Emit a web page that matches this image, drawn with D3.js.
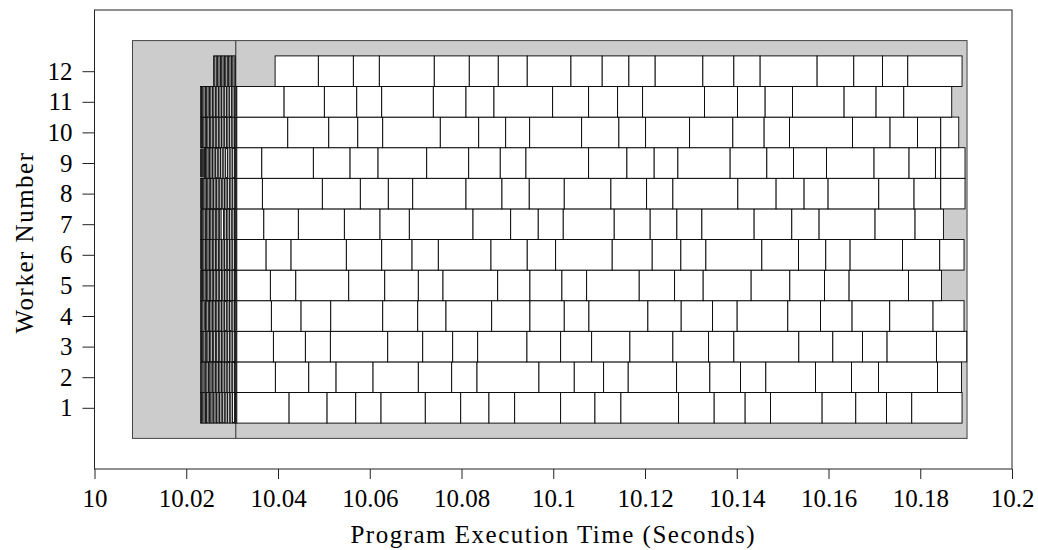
<!DOCTYPE html>
<html lang="en">
<head>
    <meta charset="UTF-8">
    <title>Worker timeline</title>
    <style>
        html,
        body {
            margin: 0;
            height: 100%;
            overflow: hidden;
            background: #fff;
        }
        text { font-family: "Liberation Serif", serif; fill: #000; }
    </style>
    <script src="https://d3js.org/d3.v7.min.js"></script>
</head>
<body>
    <svg id="svg"></svg>
    <script>
        // all task times are ms after t = 10 s
        const workers = [1, 2, 3, 4, 5, 6, 7, 8, 9, 10, 11, 12];
        const xTicks = [10, 10.02, 10.04, 10.06, 10.08, 10.1, 10.12, 10.14, 10.16, 10.18, 10.2];
        const xTickLabels = ['10', '10.02', '10.04', '10.06', '10.08', '10.1', '10.12', '10.14', '10.16', '10.18', '10.2'];
        const phases = [8.28, 30.81, 190.20]; // grey background: setup phase, run phase

        // tiny start-up tasks (the dark hatched block)
        const startup1 = [23.09, 23.35, 23.62, 23.90, 24.19, 24.45, 24.78, 25.06, 25.37, 25.66, 25.99, 26.30, 26.62, 26.95, 27.27, 27.62, 27.96, 28.30, 28.66, 29.01, 29.38, 29.74, 30.11, 30.50, 30.76, 31.02];
        const startup2 = [23.09, 23.38, 23.66, 23.92, 24.25, 24.53, 24.84, 25.15, 25.43, 25.77, 26.06, 26.41, 26.70, 27.05, 27.36, 27.70, 28.02, 28.39, 28.72, 29.08, 29.42, 29.80, 30.15, 30.52, 30.80, 31.02];
        const startup3 = [23.09, 23.33, 23.60, 23.87, 24.16, 24.47, 24.75, 25.08, 25.38, 25.70, 26.01, 26.35, 26.66, 27.00, 27.33, 27.66, 28.01, 28.34, 28.70, 29.05, 29.41, 29.77, 30.14, 30.49, 30.78, 31.02];
        const startup4 = [23.09, 23.36, 23.64, 23.93, 24.21, 24.50, 24.81, 25.10, 25.42, 25.72, 26.05, 26.36, 26.69, 27.01, 27.35, 27.69, 28.04, 28.38, 28.74, 29.10, 29.45, 29.81, 30.18, 30.54, 30.82, 31.02];
        const startup5 = [23.09, 23.31, 23.58, 23.85, 24.14, 24.42, 24.73, 25.03, 25.35, 25.67, 25.98, 26.32, 26.64, 26.98, 27.31, 27.66, 28.00, 28.36, 28.71, 29.06, 29.43, 29.79, 30.16, 30.53, 30.79, 31.02];
        const startup6 = [23.09, 23.34, 23.59, 23.88, 24.18, 24.48, 24.77, 25.09, 25.40, 25.71, 26.03, 26.37, 26.68, 27.02, 27.34, 27.67, 28.03, 28.37, 28.73, 29.07, 29.44, 29.78, 30.15, 30.51, 30.77, 31.02];
        const startup7 = [23.09, 23.34, 23.61, 23.88, 24.17, 24.46, 24.76, 25.07, 25.38, 25.69, 26.02, 26.34, 26.66, 26.98, 27.30, 27.61, 28.11, 28.42, 28.76, 29.11, 29.46, 29.82, 30.18, 30.54, 30.80, 31.02];
        const startup8 = [23.09, 23.32, 23.57, 23.84, 24.12, 24.41, 24.72, 25.02, 25.33, 25.65, 25.97, 26.31, 26.63, 26.97, 27.32, 27.65, 28.00, 28.35, 28.69, 29.04, 29.40, 29.76, 30.13, 30.48, 30.77, 31.02];
        const startup9 = [23.09, 23.29, 23.50, 23.72, 23.96, 24.22, 24.50, 24.79, 25.10, 25.41, 25.74, 26.08, 26.42, 26.77, 27.12, 27.48, 27.85, 28.22, 28.60, 28.98, 29.37, 29.76, 30.14, 30.50, 30.78, 31.02];
        const startup10 = [23.09, 23.33, 23.58, 23.86, 24.15, 24.44, 24.74, 25.05, 25.36, 25.68, 26.00, 26.33, 26.67, 27.00, 27.35, 27.70, 28.05, 28.40, 28.75, 29.10, 29.46, 29.82, 30.19, 30.55, 30.81, 31.02];
        const startup11 = [23.09, 23.35, 23.61, 23.89, 24.18, 24.47, 24.78, 25.08, 25.39, 25.71, 26.04, 26.36, 26.69, 27.03, 27.37, 27.71, 28.06, 28.41, 28.77, 29.12, 29.48, 29.84, 30.20, 30.56, 30.82, 31.02];
        const startup12 = [25.93, 26.24, 26.55, 26.85, 27.16, 27.46, 27.75, 28.05, 28.34, 28.64, 28.95, 29.25, 29.56, 29.86, 30.17, 30.46, 30.72];

        // task boundaries of the real work
        const worker1 = [31.02, 42.42, 50.70, 56.95, 62.46, 72.11, 79.83, 85.99, 91.59, 101.61, 109.09, 114.75, 127.32, 135.08, 141.83, 147.36, 158.61, 165.95, 172.64, 178.15, 189.11];
        const worker2 = [31.02, 39.43, 46.71, 52.66, 60.72, 70.59, 77.86, 83.38, 96.88, 104.58, 110.98, 116.34, 126.89, 134.14, 140.83, 146.34, 157.17, 165.01, 170.89, 183.75, 188.98];
        const worker3 = [31.02, 39.00, 45.97, 51.42, 63.92, 71.55, 78.08, 83.53, 94.27, 101.61, 108.37, 116.71, 126.08, 133.86, 139.37, 153.53, 160.94, 167.41, 172.77, 183.53, 190.13];
        const worker4 = [31.02, 38.56, 45.03, 51.50, 62.83, 70.46, 76.62, 86.58, 94.92, 102.40, 107.78, 120.63, 127.89, 134.73, 140.09, 151.13, 158.26, 165.14, 173.35, 182.79, 189.54];
        const worker5 = [31.02, 38.34, 43.88, 55.42, 63.27, 70.59, 75.97, 87.89, 94.92, 101.89, 107.28, 118.74, 126.45, 132.68, 143.14, 151.57, 159.13, 164.49, 177.43, 184.62];
        const worker6 = [31.02, 37.41, 42.85, 54.90, 62.61, 69.22, 74.95, 86.43, 94.33, 100.52, 112.85, 121.57, 127.82, 133.27, 145.47, 153.46, 159.41, 164.71, 176.12, 184.25, 189.54];
        const worker7 = [31.02, 36.91, 44.44, 54.47, 62.24, 68.63, 82.51, 90.72, 96.73, 102.18, 113.29, 121.13, 126.95, 132.40, 143.79, 152.00, 157.95, 170.15, 178.87, 185.05];
        const worker8 = [31.02, 36.60, 49.67, 57.95, 64.05, 69.37, 80.98, 88.82, 94.77, 102.40, 112.57, 120.35, 126.08, 140.24, 148.58, 154.68, 159.91, 170.96, 178.65, 184.47, 189.76];
        const worker9 = [31.02, 36.47, 47.71, 55.71, 61.81, 72.42, 81.57, 88.45, 94.05, 107.71, 116.06, 122.00, 127.17, 138.56, 146.56, 152.37, 159.56, 169.93, 177.56, 183.31, 184.47, 189.76];
        const worker10 = [31.02, 42.13, 51.07, 57.39, 62.83, 75.38, 83.75, 89.63, 94.86, 106.19, 114.31, 120.13, 129.72, 139.15, 145.97, 151.50, 165.23, 173.42, 179.39, 184.47, 188.39];
        const worker11 = [31.02, 41.33, 50.11, 57.17, 62.61, 73.86, 80.98, 87.08, 99.87, 107.71, 114.03, 119.48, 132.98, 140.17, 146.19, 152.16, 163.40, 170.37, 176.41, 186.86];
        const worker12 = [39.37, 48.80, 56.43, 62.09, 74.07, 81.70, 88.02, 94.33, 103.86, 110.67, 116.49, 122.22, 132.61, 139.37, 145.10, 157.52, 165.51, 171.76, 177.28, 189.11];

        const startups = [startup1, startup2, startup3, startup4, startup5, startup6, startup7, startup8, startup9, startup10, startup11, startup12];
        const works = [worker1, worker2, worker3, worker4, worker5, worker6, worker7, worker8, worker9, worker10, worker11, worker12];

        const width = 1038, height = 550;
        const svg = d3.select('#svg').attr('width', width).attr('height', height);
        const margin = { top: 10, left: 94.5, right: 26, bottom: 81 };

        const toSec = ms => 10 + ms / 1000;
        const xScale = d3.scaleLinear().domain([10, 10.2]).range([margin.left, width - margin.right]);
        const yScale = d3.scaleLinear().domain([-1, 14]).range([height - margin.bottom, margin.top]);

        // grey phase background
        svg.append('g').selectAll('rect').data(d3.pairs(phases)).join('rect')
            .attr('x', d => xScale(toSec(d[0])))
            .attr('width', d => xScale(toSec(d[1])) - xScale(toSec(d[0])))
            .attr('y', yScale(13))
            .attr('height', yScale(0) - yScale(13))
            .attr('fill', '#cccccc')
            .attr('stroke', '#444')
            .attr('stroke-width', 1);

        // tasks
        const tasks = [];
        workers.forEach((w, i) => {
            d3.pairs(startups[i]).forEach(p => tasks.push({ worker: w, start: p[0], end: p[1] }));
            d3.pairs(works[i]).forEach(p => tasks.push({ worker: w, start: p[0], end: p[1] }));
        });

        svg.append('g').selectAll('rect').data(tasks).join('rect')
            .attr('x', d => xScale(toSec(d.start)))
            .attr('width', d => xScale(toSec(d.end)) - xScale(toSec(d.start)))
            .attr('y', d => yScale(d.worker + 0.5))
            .attr('height', d => yScale(d.worker - 0.5) - yScale(d.worker + 0.5))
            .attr('fill', '#fff')
            .attr('stroke', '#000')
            .attr('stroke-width', d => d.end - d.start < 1 ? 0.8 : 0.9);

        // axes
        const xAxis = d3.axisBottom(xScale)
            .tickValues(xTicks)
            .tickFormat((d, i) => xTickLabels[i])
            .tickSize(10)
            .tickPadding(10);
        const gx = svg.append('g').attr('transform', `translate(0,${height - margin.bottom})`).call(xAxis);

        const yAxis = d3.axisLeft(yScale)
            .tickValues(workers)
            .tickFormat(d => d)
            .tickSize(12)
            .tickPadding(10);
        const gy = svg.append('g').attr('transform', `translate(${margin.left},0)`).call(yAxis);

        [gx, gy].forEach(g => {
            g.select('.domain').remove();
            g.selectAll('text').attr('font-family', '"Liberation Serif", serif').attr('font-size', 25);
            g.selectAll('line').attr('stroke', '#222');
        });

        // frame
        svg.append('rect')
            .attr('x', margin.left)
            .attr('y', margin.top)
            .attr('width', width - margin.left - margin.right)
            .attr('height', height - margin.top - margin.bottom)
            .attr('fill', 'none')
            .attr('stroke', '#222')
            .attr('stroke-width', 1);

        svg.append('text')
            .attr('x', (margin.left + width - margin.right) / 2)
            .attr('y', 543)
            .attr('text-anchor', 'middle')
            .attr('font-size', 25)
            .attr('letter-spacing', 1.5)
            .text('Program Execution Time (Seconds)');

        svg.append('text')
            .attr('transform', `translate(33,${(margin.top + height - margin.bottom) / 2 + 3}) rotate(-90)`)
            .attr('text-anchor', 'middle')
            .attr('font-size', 25)
            .attr('letter-spacing', 1.5)
            .text('Worker Number');
    </script>
</body>
</html>
